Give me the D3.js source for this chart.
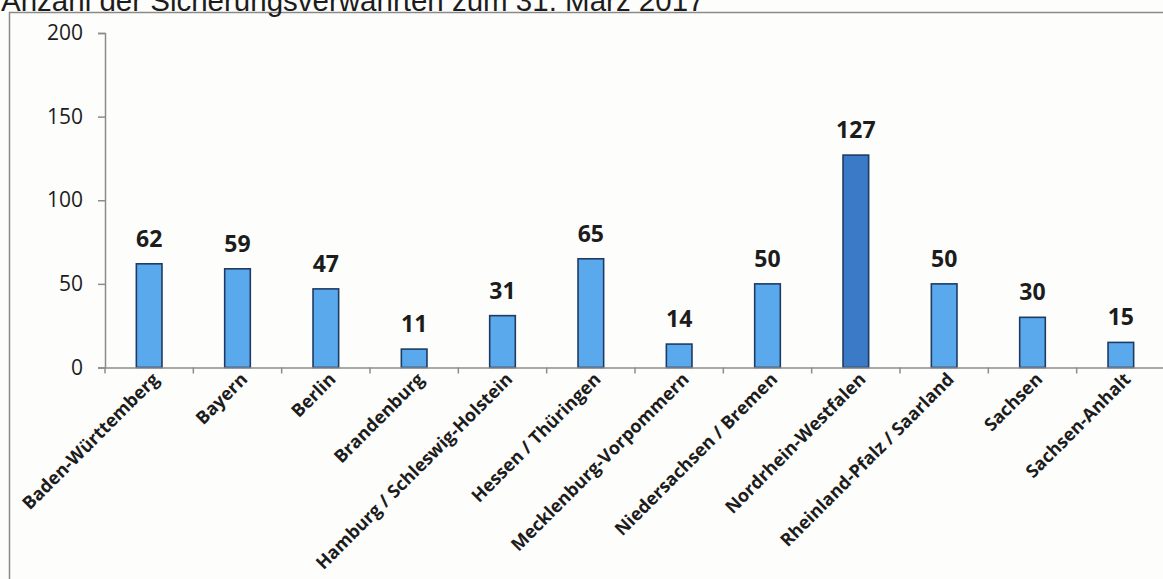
<!DOCTYPE html>
<html>
<head>
<meta charset="utf-8">
<script src="https://cdn.jsdelivr.net/npm/d3@7"></script>
<style>
  html, body { margin: 0; padding: 0; background: #fdfdfb; }
  svg { display: block; }
</style>
</head>
<body>
<svg id="chart" width="1163" height="579"></svg>
<script>
// Sicherungsverwahrte je Bundesland (Stichtag 31. März 2017)
const categories = [
  "Baden-Württemberg", "Bayern", "Berlin", "Brandenburg",
  "Hamburg / Schleswig-Holstein", "Hessen / Thüringen", "Mecklenburg-Vorpommern",
  "Niedersachsen / Bremen", "Nordrhein-Westfalen", "Rheinland-Pfalz / Saarland",
  "Sachsen", "Sachsen-Anhalt"
];
const values = [62, 59, 47, 11, 31, 65, 14, 50, 127, 50, 30, 15];
const highlighted = ["Nordrhein-Westfalen"];
const yTicks = [0, 50, 100, 150, 200];
const title = "Anzahl der Sicherungsverwahrten zum 31. März 2017";

const data = categories.map((c, i) => ({ name: c, value: values[i] }));

const svg = d3.select("#chart");

// frame around the plot area (right and bottom run off the page)
svg.append("rect")
  .attr("x", 9.5).attr("y", 12.5)
  .attr("width", 1200).attr("height", 700)
  .attr("fill", "none")
  .attr("stroke", "#8a8a8a")
  .attr("stroke-width", 1.5);

svg.append("text")
  .attr("x", 1).attr("y", 11)
  .attr("font-family", "Liberation Sans, Arial, sans-serif")
  .attr("font-size", 29.5)
  .attr("fill", "#1c1c1c")
  .text(title);

const x = d3.scaleBand()
  .domain(categories)
  .range([105, 1165])
  .paddingInner(0.71)
  .paddingOuter(0.355);

const y = d3.scaleLinear()
  .domain([0, 200])
  .range([367.5, 33]);

const axisColor = "#8c8c8c";

// y axis
const yAxis = svg.append("g")
  .attr("transform", "translate(105,0)")
  .call(d3.axisLeft(y).tickValues(yTicks).tickSize(7).tickPadding(15));
yAxis.selectAll("path, line").attr("stroke", axisColor).attr("stroke-width", 1.5);
yAxis.selectAll("text")
  .attr("font-family", "Open Sans, sans-serif")
  .attr("font-size", 21)
  .attr("fill", "#1c1c1c");

// bars
svg.append("g").selectAll("rect")
  .data(data)
  .join("rect")
  .attr("x", d => x(d.name))
  .attr("y", d => y(d.value))
  .attr("width", x.bandwidth())
  .attr("height", d => y(0) - y(d.value))
  .attr("fill", d => highlighted.includes(d.name) ? "#3b7ac6" : "#5aa9ec")
  .attr("stroke", "#1f3b63")
  .attr("stroke-width", 1.6);

// x axis line with tick marks between categories
const xAxis = svg.append("g")
  .attr("transform", `translate(0,${y(0)})`)
  .call(d3.axisBottom(x).tickSize(0).tickFormat(""));
xAxis.select(".domain").attr("stroke", axisColor).attr("stroke-width", 1.5);
const step = x.step();
const x0 = x.range()[0];
xAxis.selectAll(".sep")
  .data(d3.range(categories.length + 1))
  .join("line")
  .attr("class", "sep")
  .attr("x1", i => x0 + i * step)
  .attr("x2", i => x0 + i * step)
  .attr("y1", 0).attr("y2", 6)
  .attr("stroke", axisColor)
  .attr("stroke-width", 1.5);

// value labels
svg.append("g").selectAll("text")
  .data(data)
  .join("text")
  .attr("x", d => x(d.name) + x.bandwidth() / 2)
  .attr("y", d => y(d.value) - 17)
  .attr("text-anchor", "middle")
  .attr("font-family", "Open Sans, sans-serif")
  .attr("font-weight", "bold")
  .attr("font-size", 23)
  .attr("fill", "#1c1c1c")
  .text(d => d.value);

// rotated category labels
svg.append("g").selectAll("text")
  .data(data)
  .join("text")
  .attr("transform", d => `translate(${x(d.name) + x.bandwidth() / 2 + 11},${y(0) + 13}) rotate(-45)`)
  .attr("text-anchor", "end")
  .attr("font-family", "Open Sans, sans-serif")
  .attr("font-weight", "bold")
  .attr("font-size", 18)
  .attr("fill", "#1c1c1c")
  .text(d => d.name);
</script>
</body>
</html>
